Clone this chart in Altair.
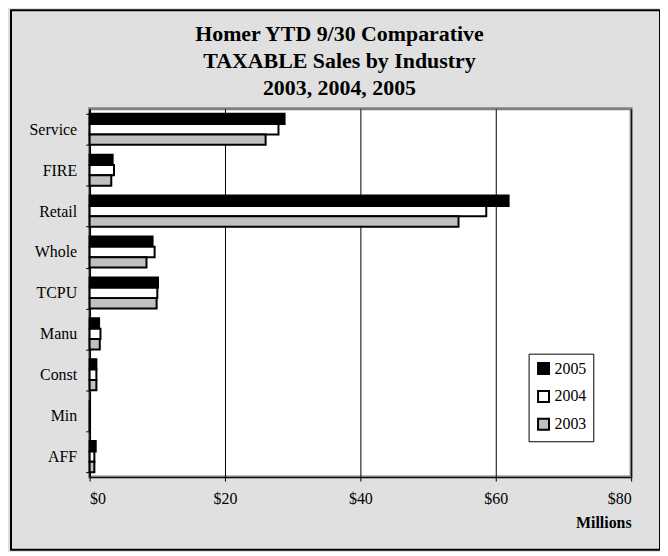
import altair as alt
import pandas as pd

industries = ["Service", "FIRE", "Retail", "Whole", "TCPU", "Manu", "Const", "Min", "AFF"]
years = ["2005", "2004", "2003"]
v2005 = [28.8, 3.4, 61.9, 9.3, 10.1, 1.4, 1.0, 0.0, 0.9]
v2004 = [27.9, 3.6, 58.6, 9.6, 10.0, 1.6, 1.0, 0.0, 0.7]
v2003 = [26.0, 3.2, 54.5, 8.4, 9.9, 1.5, 1.0, 0.0, 0.7]
year_colors = ["#000000", "#FFFFFF", "#C0C0C0"]
x_ticks = [0, 20, 40, 60, 80]

rows = []
for yr, vals in zip(years, [v2005, v2004, v2003]):
    for ind, v in zip(industries, vals):
        rows.append({"Industry": ind, "Year": yr, "Sales": v})
df = pd.DataFrame(rows)

FONT = "Liberation Serif"

bars = alt.Chart(df).mark_bar(stroke="black", strokeWidth=2).encode(
    y=alt.Y("Industry:N", sort=industries,
            scale=alt.Scale(paddingInner=0.24, paddingOuter=0.12),
            axis=alt.Axis(title=None, tickBand="extent", grid=False, domainColor="black",
                          domainWidth=1.5, tickColor="black", tickSize=4, labelPadding=9,
                          labelFontSize=16)),
    yOffset=alt.YOffset("Year:N", sort=years, scale=alt.Scale(paddingInner=0, paddingOuter=0)),
    x=alt.X("Sales:Q", scale=alt.Scale(domain=[0, 80], nice=False),
            axis=alt.Axis(values=x_ticks, title="Millions", titleAnchor="end",
                          titleFontWeight="bold", titleFontSize=16, titlePadding=8,
                          labelExpr="'$' + datum.value", labelFontSize=16, labelPadding=10,
                          grid=True, gridColor="black", gridWidth=1, gridOpacity=1,
                          domainColor="black", tickColor="black", tickSize=4)),
    color=alt.Color("Year:N", sort=years,
                    scale=alt.Scale(domain=years, range=year_colors),
                    legend=alt.Legend(title=None, orient="none", legendX=441, legendY=246,
                                      fillColor="white", strokeColor="black", padding=7,
                                      symbolType="square", symbolSize=121,
                                      symbolStrokeColor="black", symbolStrokeWidth=2,
                                      labelFontSize=16, labelOffset=3, rowPadding=8,
                                      labelFont=FONT)),
)

frame = alt.Chart(alt.Data(values=[{}])).mark_rect(
    fillOpacity=0, stroke="black", strokeWidth=2
).encode(
    x=alt.value(-79), x2=alt.value(573), y=alt.value(-99), y2=alt.value(443)
)

chart = alt.layer(bars, frame).properties(
    width=544,
    height=370,
    autosize=alt.AutoSizeParams(type="none"),
    padding={"left": 82, "top": 100, "right": 29, "bottom": 74},
    background="#E0E0E0",
    title=alt.TitleParams(
        text=["Homer YTD 9/30 Comparative", "TAXABLE Sales by Industry", "2003, 2004, 2005"],
        font=FONT, fontSize=22, fontWeight="bold", color="black",
        anchor="middle", frame="group", dx=-21, lineHeight=27, offset=-91,
    ),
).configure_view(
    fill="white", stroke="#808080", strokeWidth=3
).configure_axis(
    labelFont=FONT, titleFont=FONT, labelColor="black", titleColor="black"
)

chart.save("out.html", embed_options={"renderer": "svg", "actions": False})
